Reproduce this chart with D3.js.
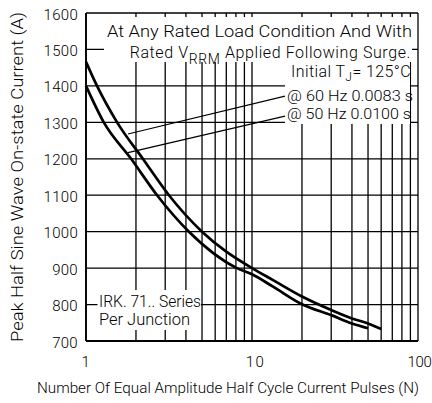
<!DOCTYPE html>
<html><head><meta charset="utf-8">
<script src="https://cdn.jsdelivr.net/npm/d3@7"></script>
<style>
html,body{margin:0;padding:0;background:#fff;}
svg{display:block;}
text{font-family:Roboto,"Liberation Sans",sans-serif;font-weight:300;fill:#000;}
</style></head>
<body>
<svg id="chart" width="432" height="403"></svg>
<script>
// ---- data ----
const xTickValues = [1, 10, 100];
const xTickLabels = ["1", "10", "100"];
const yTickValues = [700, 800, 900, 1000, 1100, 1200, 1300, 1400, 1500, 1600];
const pulses60 = [1, 1.165, 1.54, 2.2, 3.16, 5, 7, 10, 13.4, 20, 30, 40, 50, 60];
const current60 = [1466, 1400, 1300, 1200, 1100, 1000, 945, 900, 867, 822, 785, 762, 748, 733];
const pulses50 = [1, 1.28, 1.87, 2.68, 4.17, 8.12, 10, 13.4, 20, 30, 40, 50];
const current50 = [1400, 1300, 1200, 1100, 1000, 900, 883, 849, 801, 771, 748, 735];
const leader60 = [[1.79, 1268], [15.8, 1372]];
const leader50 = [[1.79, 1217], [15.8, 1317]];
const yTitle = "Peak Half Sine Wave On-state Current (A)";
const xTitle = "Number Of Equal Amplitude Half Cycle Current Pulses (N)";

// ---- layout ----
const L = 86, R = 418, T = 13, B = 341;
const svg = d3.select("#chart");
const x = d3.scaleLog().domain([1, 100]).range([L, R]);
const y = d3.scaleLinear().domain([700, 1600]).range([B, T]);

// grid lines
const vGrid = [];
for (let d = 1; d < 100; d *= 10) for (let k = 1; k < 10; k++) vGrid.push(d * k);
vGrid.push(100);
const g = svg.append("g");
g.selectAll("line.v").data(vGrid).join("line")
  .attr("x1", d => x(d)).attr("x2", d => x(d)).attr("y1", T).attr("y2", B)
  .attr("stroke", "#000").attr("stroke-width", 1.3);
g.selectAll("line.h").data(yTickValues).join("line")
  .attr("x1", L).attr("x2", R).attr("y1", d => y(d)).attr("y2", d => y(d))
  .attr("stroke", "#000").attr("stroke-width", 1.3);
svg.append("line").attr("x1", L).attr("x2", L).attr("y1", T).attr("y2", B).attr("stroke", "#000").attr("stroke-width", 1.8);
svg.append("line").attr("x1", L).attr("x2", R).attr("y1", B).attr("y2", B).attr("stroke", "#000").attr("stroke-width", 1.8);

// white boxes behind annotations
const boxes = [
  [104, 17, 412, 62],
  [285, 62, 410, 124],
  [97.5, 290, 201, 330]
];
svg.selectAll("rect.box").data(boxes).join("rect")
  .attr("x", d => d[0]).attr("y", d => d[1]).attr("width", d => d[2] - d[0]).attr("height", d => d[3] - d[1])
  .attr("fill", "#fff");

// axis tick labels
const yAxis = d3.axisLeft(y).tickValues(yTickValues).tickSize(0).tickPadding(8).tickFormat(d3.format("d"));
const ya = svg.append("g").attr("transform", `translate(${L},0)`).call(yAxis);
ya.select(".domain").remove();
ya.selectAll("text").attr("font-size", 15).attr("font-family", null).attr("dy", "0.4em").attr("letter-spacing", "0.3");

const xAxis = d3.axisBottom(x).tickValues(xTickValues).tickSize(0).tickPadding(15).tickFormat((d, i) => xTickLabels[i]);
const xa = svg.append("g").attr("transform", `translate(0,${B})`).call(xAxis);
xa.select(".domain").remove();
xa.selectAll("text").attr("font-size", 15).attr("font-family", null)
  .attr("letter-spacing", (d, i) => i === 2 ? "-0.3" : "1.5")
  .attr("text-anchor", (d, i) => i === 2 ? "end" : "middle")
  .attr("dx", (d, i) => i === 2 ? 13 : (i === 1 ? 3 : 0));

// titles
svg.append("text").attr("transform", `translate(23,${(T + B) / 2}) rotate(-90)`)
  .attr("text-anchor", "middle").attr("font-size", 16.5).attr("textLength", 330).attr("lengthAdjust", "spacingAndGlyphs")
  .text(yTitle);
svg.append("text").attr("x", (37 + 419) / 2).attr("y", 393).attr("text-anchor", "middle")
  .attr("font-size", 14).attr("textLength", 382).attr("lengthAdjust", "spacingAndGlyphs")
  .text(xTitle);

// curves
const line = d3.line().x(d => x(d[0])).y(d => y(d[1])).curve(d3.curveMonotoneX);
svg.append("path").datum(d3.zip(pulses60, current60)).attr("d", line)
  .attr("fill", "none").attr("stroke", "#000").attr("stroke-width", 2.7);
svg.append("path").datum(d3.zip(pulses50, current50)).attr("d", line)
  .attr("fill", "none").attr("stroke", "#000").attr("stroke-width", 2.7);

// leader lines
const straight = d3.line().x(d => x(d[0])).y(d => y(d[1]));
[leader60, leader50].forEach(l => svg.append("path").attr("d", straight(l)).attr("fill", "none").attr("stroke", "#000").attr("stroke-width", 1.2));

// annotation text
const fs = 16;
svg.append("text").attr("x", 107).attr("y", 37).attr("font-size", fs).attr("textLength", 305).attr("lengthAdjust", "spacingAndGlyphs")
  .text("At Any Rated Load Condition And With");
const t2 = svg.append("text").attr("x", 411).attr("y", 58).attr("font-size", fs).attr("text-anchor", "end").attr("letter-spacing", "0.6");
t2.append("tspan").text("Rated V");
t2.append("tspan").attr("dy", 6).attr("font-size", 14).text("RRM");
t2.append("tspan").attr("dy", -6).text(" Applied Following Surge.");
const t3 = svg.append("text").attr("x", 411).attr("y", 77).attr("font-size", fs).attr("text-anchor", "end").attr("letter-spacing", "0.4");
t3.append("tspan").text("Initial T");
t3.append("tspan").attr("dy", 4).attr("font-size", 12).text("J");
t3.append("tspan").attr("dy", -4).text("= 125°C");
svg.append("text").attr("x", 287).attr("y", 101).attr("font-size", 15).attr("textLength", 126).attr("lengthAdjust", "spacingAndGlyphs")
  .text("@ 60 Hz 0.0083 s");
svg.append("text").attr("x", 287).attr("y", 118.5).attr("font-size", 15).attr("textLength", 124).attr("lengthAdjust", "spacingAndGlyphs")
  .text("@ 50 Hz 0.0100 s");
svg.append("text").attr("x", 99).attr("y", 307).attr("font-size", fs).attr("textLength", 102).attr("lengthAdjust", "spacingAndGlyphs")
  .text("IRK. 71.. Series");
svg.append("text").attr("x", 99).attr("y", 325).attr("font-size", fs).attr("textLength", 91).attr("lengthAdjust", "spacingAndGlyphs")
  .text("Per Junction");
</script>
</body></html>
